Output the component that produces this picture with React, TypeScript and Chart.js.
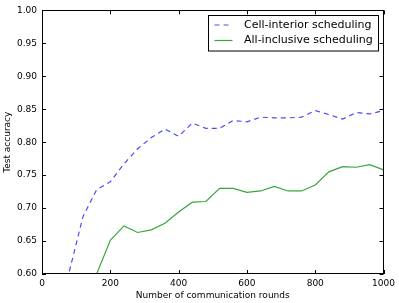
import React, { useEffect, useRef } from "react";
import { Chart, registerables } from "chart.js";

Chart.register(...registerables);

const rounds = [80, 120, 160, 200, 240, 280, 320, 360, 400, 440, 480, 520, 560, 600, 640, 680, 720, 760, 800, 840, 880, 920, 960, 1000];
const cellInterior = [0.604, 0.687, 0.728, 0.740, 0.767, 0.790, 0.807, 0.820, 0.809, 0.829, 0.821, 0.821, 0.833, 0.831, 0.838, 0.837, 0.837, 0.838, 0.848, 0.842, 0.835, 0.845, 0.843, 0.848];
const allRounds = [160, 200, 240, 280, 320, 360, 400, 440, 480, 520, 560, 600, 640, 680, 720, 760, 800, 840, 880, 920, 960, 1000];
const allInclusive = [0.600, 0.651, 0.673, 0.663, 0.667, 0.677, 0.694, 0.709, 0.710, 0.730, 0.730, 0.724, 0.726, 0.733, 0.726, 0.726, 0.735, 0.755, 0.763, 0.762, 0.766, 0.758];
const seriesNames = ["Cell-interior scheduling", "All-inclusive scheduling"];
const xTicks = [0, 200, 400, 600, 800, 1000];
const yTicks = [0.6, 0.65, 0.7, 0.75, 0.8, 0.85, 0.9, 0.95, 1.0];

const FONT = "'DejaVu Sans', sans-serif";
const BLUE = "#4a4aff";
const GREEN = "#3aa63a";

const framePlugin = {
  id: "frameTicks",
  afterDraw(chart: any) {
    const { ctx, chartArea: a, scales } = chart;
    ctx.save();
    ctx.strokeStyle = "#000";
    ctx.lineWidth = 1;
    ctx.strokeRect(Math.round(a.left) + 0.5, Math.round(a.top) + 0.5, Math.round(a.right - a.left) - 1, Math.round(a.bottom - a.top) - 1);
    const L = 4;
    ctx.beginPath();
    xTicks.forEach((v) => {
      const px = Math.round(scales.x.getPixelForValue(v)) + 0.5;
      ctx.moveTo(px, a.bottom);
      ctx.lineTo(px, a.bottom - L);
      ctx.moveTo(px, a.top);
      ctx.lineTo(px, a.top + L);
    });
    yTicks.forEach((v) => {
      const py = Math.round(scales.y.getPixelForValue(v)) + 0.5;
      ctx.moveTo(a.left, py);
      ctx.lineTo(a.left + L, py);
      ctx.moveTo(a.right, py);
      ctx.lineTo(a.right - L, py);
    });
    ctx.stroke();

    // legend
    const w = 170;
    const h = 35.5;
    const x0 = Math.round(a.right - 6 - w) + 0.5;
    const y0 = Math.round(a.top + 5) + 0.5;
    ctx.fillStyle = "#fff";
    ctx.fillRect(x0, y0, w, h);
    ctx.strokeStyle = "#000";
    ctx.strokeRect(x0, y0, w, h);
    const rows = [y0 + 9.5, y0 + 25];
    const colors = [BLUE, GREEN];
    const dashes = [[5, 4], []];
    ctx.font = `11px ${FONT}`;
    ctx.textBaseline = "middle";
    ctx.textAlign = "left";
    rows.forEach((ry, i) => {
      ctx.strokeStyle = colors[i];
      ctx.lineWidth = 1.2;
      ctx.setLineDash(dashes[i]);
      ctx.beginPath();
      ctx.moveTo(x0 + 6, ry);
      ctx.lineTo(x0 + 24, ry);
      ctx.stroke();
      ctx.setLineDash([]);
      ctx.fillStyle = "#000";
      ctx.fillText(seriesNames[i], x0 + 35.5, ry);
    });
    ctx.restore();
  },
};

export default function App() {
  const ref = useRef<HTMLCanvasElement | null>(null);
  useEffect(() => {
    document.body.style.margin = "0";
    const canvas = ref.current;
    if (!canvas) return;
    const chart = new Chart(canvas, {
      type: "line",
      data: {
        datasets: [
          {
            label: seriesNames[0],
            data: rounds.map((x, i) => ({ x, y: cellInterior[i] })),
            borderColor: BLUE,
            borderWidth: 1.2,
            borderDash: [5, 4],
            pointRadius: 0,
            fill: false,
            tension: 0,
          },
          {
            label: seriesNames[1],
            data: allRounds.map((x, i) => ({ x, y: allInclusive[i] })),
            borderColor: GREEN,
            borderWidth: 1.2,
            pointRadius: 0,
            fill: false,
            tension: 0,
          },
        ],
      },
      options: {
        responsive: false,
        animation: false,
        devicePixelRatio: 1,
        layout: { padding: { top: 8, right: 12, left: 0, bottom: 0 } },
        plugins: { legend: { display: false }, tooltip: { enabled: false } },
        scales: {
          x: {
            type: "linear",
            min: 0,
            max: 1000,
            afterFit: (s: any) => {
              s.height = 29;
            },
            afterBuildTicks: (s: any) => {
              s.ticks = xTicks.map((v) => ({ value: v }));
            },
            ticks: {
              color: "#000",
              font: { family: FONT, size: 9 },
              padding: 4,
              maxRotation: 0,
              autoSkip: false,
              callback: (v: any) => String(v),
            },
            grid: { display: false, drawTicks: false },
            border: { display: false },
            title: {
              display: true,
              text: "Number of communication rounds",
              color: "#000",
              font: { family: FONT, size: 9 },
              padding: { top: 0, bottom: 2 },
            },
          },
          y: {
            type: "linear",
            min: 0.6,
            max: 1.0,
            afterFit: (s: any) => {
              s.width = 42;
            },
            afterBuildTicks: (s: any) => {
              s.ticks = yTicks.map((v) => ({ value: v }));
            },
            ticks: {
              color: "#000",
              font: { family: FONT, size: 9 },
              padding: 5,
              autoSkip: false,
              callback: (v: any) => Number(v).toFixed(2),
            },
            grid: { display: false, drawTicks: false },
            border: { display: false },
            title: {
              display: true,
              text: "Test accuracy",
              color: "#000",
              font: { family: FONT, size: 9 },
              padding: { top: 2, bottom: 0 },
            },
          },
        },
      },
      plugins: [framePlugin],
    } as any);
    return () => chart.destroy();
  }, []);
  return (
    <div style={{ position: "absolute", left: 0, top: 0, width: 399, height: 303 }}>
      <canvas ref={ref} width={399} height={303} style={{ display: "block" }} />
    </div>
  );
}
